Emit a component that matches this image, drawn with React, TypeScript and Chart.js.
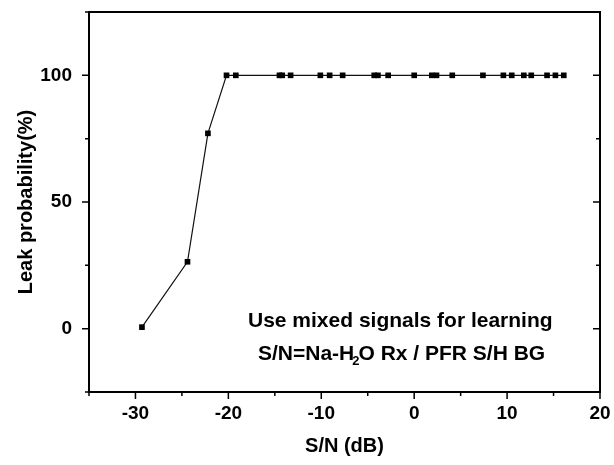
import React, { useEffect, useRef } from "react";
import { Chart, registerables } from "chart.js";

Chart.register(...registerables);

// Signal-to-noise ratio (dB) of each test case and the resulting leak probability (%)
const snrDb = [
  -29.3, -24.4, -22.2, -20.2, -19.2, -14.5, -14.2, -13.3, -10.1, -9.1, -7.7,
  -4.3, -3.9, -2.8, 0.0, 1.9, 2.4, 4.1, 7.4, 9.6, 10.5, 11.8, 12.6, 14.3,
  15.2, 16.1,
];
const leakProbability = [
  0.6, 26.4, 77.1, 100, 100, 100, 100, 100, 100, 100, 100, 100, 100, 100, 100,
  100, 100, 100, 100, 100, 100, 100, 100, 100, 100, 100,
];

const xMajorTicks = [-30, -20, -10, 0, 10, 20];
const xMinorTicks = [-35, -25, -15, -5, 5, 15];
const yMajorTicks = [0, 50, 100];
const yMinorTicks = [-25, 25, 75, 125];

const annotationLine1 = "Use mixed signals for learning";
const annotationLine2a = "S/N=Na-H";
const annotationSub = "2";
const annotationLine2b = "O Rx / PFR S/H BG";

const FONT = '"Liberation Sans", Arial, Helvetica, sans-serif';

// Frame, tick marks and the in-plot note
const framePlugin = {
  id: "frame",
  afterDraw(chart: any) {
    const { ctx, chartArea: a, scales } = chart;
    const xs = scales.x;
    const ys = scales.y;
    ctx.save();
    ctx.strokeStyle = "#000";
    ctx.lineWidth = 2;
    ctx.strokeRect(a.left, a.top, a.right - a.left, a.bottom - a.top);

    ctx.lineWidth = 1.5;
    ctx.beginPath();
    for (const v of xMajorTicks) {
      const px = xs.getPixelForValue(v);
      ctx.moveTo(px, a.bottom);
      ctx.lineTo(px, a.bottom + 7);
    }
    for (const v of xMinorTicks) {
      const px = xs.getPixelForValue(v);
      ctx.moveTo(px, a.bottom);
      ctx.lineTo(px, a.bottom + 4);
    }
    for (const v of yMajorTicks) {
      const py = ys.getPixelForValue(v);
      ctx.moveTo(a.left - 7, py);
      ctx.lineTo(a.left, py);
      ctx.moveTo(a.right, py);
      ctx.lineTo(a.right - 7, py);
    }
    for (const v of yMinorTicks) {
      const py = ys.getPixelForValue(v);
      ctx.moveTo(a.left - 4, py);
      ctx.lineTo(a.left, py);
      ctx.moveTo(a.right, py);
      ctx.lineTo(a.right - 4, py);
    }
    ctx.stroke();

    ctx.fillStyle = "#000";
    ctx.textAlign = "left";
    ctx.textBaseline = "alphabetic";
    ctx.font = `bold 21px ${FONT}`;
    ctx.fillText(annotationLine1, 248, 327);

    let x = 258;
    const y = 360;
    ctx.fillText(annotationLine2a, x, y);
    x += ctx.measureText(annotationLine2a).width;
    ctx.font = `bold 13px ${FONT}`;
    ctx.fillText(annotationSub, x - 2, y + 5);
    x += ctx.measureText(annotationSub).width - 3;
    ctx.font = `bold 21px ${FONT}`;
    ctx.fillText(annotationLine2b, x, y);
    ctx.restore();
  },
};

export default function App() {
  const canvasRef = useRef<HTMLCanvasElement | null>(null);

  useEffect(() => {
    const canvas = canvasRef.current;
    if (!canvas) return;
    const points = snrDb.map((x, i) => ({ x, y: leakProbability[i] }));
    const chart = new Chart(canvas, {
      type: "scatter",
      data: {
        datasets: [
          {
            data: points,
            showLine: true,
            borderColor: "#111",
            borderWidth: 1.2,
            backgroundColor: "#000",
            pointStyle: "rect",
            pointRadius: 4,
            pointBorderWidth: 0,
          },
        ],
      },
      options: {
        responsive: false,
        animation: false,
        layout: { padding: { left: 0, top: 12, right: 14, bottom: 0 } },
        plugins: { legend: { display: false }, tooltip: { enabled: false } },
        scales: {
          x: {
            type: "linear",
            min: -35,
            max: 20,
            grid: { display: false, drawTicks: false },
            border: { display: false },
            afterBuildTicks: (s: any) => {
              s.ticks = xMajorTicks.map((value) => ({ value }));
            },
            afterFit: (s: any) => {
              s.height = 73;
              s.paddingLeft = 0;
              s.paddingRight = 0;
            },
            ticks: {
              color: "#000",
              padding: 10,
              maxRotation: 0,
              font: { family: FONT, size: 19, weight: "bold" },
            },
            title: {
              display: true,
              text: "S/N (dB)",
              color: "#000",
              padding: { top: 0, bottom: 7 },
              font: { family: FONT, size: 20, weight: "bold" },
            },
          },
          y: {
            type: "linear",
            min: -25,
            max: 125,
            grid: { display: false, drawTicks: false },
            border: { display: false },
            afterBuildTicks: (s: any) => {
              s.ticks = yMajorTicks.map((value) => ({ value }));
            },
            afterFit: (s: any) => {
              s.width = 89;
              s.paddingTop = 0;
              s.paddingBottom = 0;
            },
            ticks: {
              color: "#000",
              padding: 17,
              font: { family: FONT, size: 19, weight: "bold" },
            },
            title: {
              display: true,
              text: "Leak probability(%)",
              color: "#000",
              padding: { top: 14, bottom: 0 },
              font: { family: FONT, size: 20, weight: "bold" },
            },
          },
        },
      },
      plugins: [framePlugin],
    });
    return () => chart.destroy();
  }, []);

  return (
    <div style={{ position: "absolute", left: 0, top: 0, width: 614, height: 465, background: "#fff" }}>
      <canvas ref={canvasRef} width={614} height={465} />
    </div>
  );
}
